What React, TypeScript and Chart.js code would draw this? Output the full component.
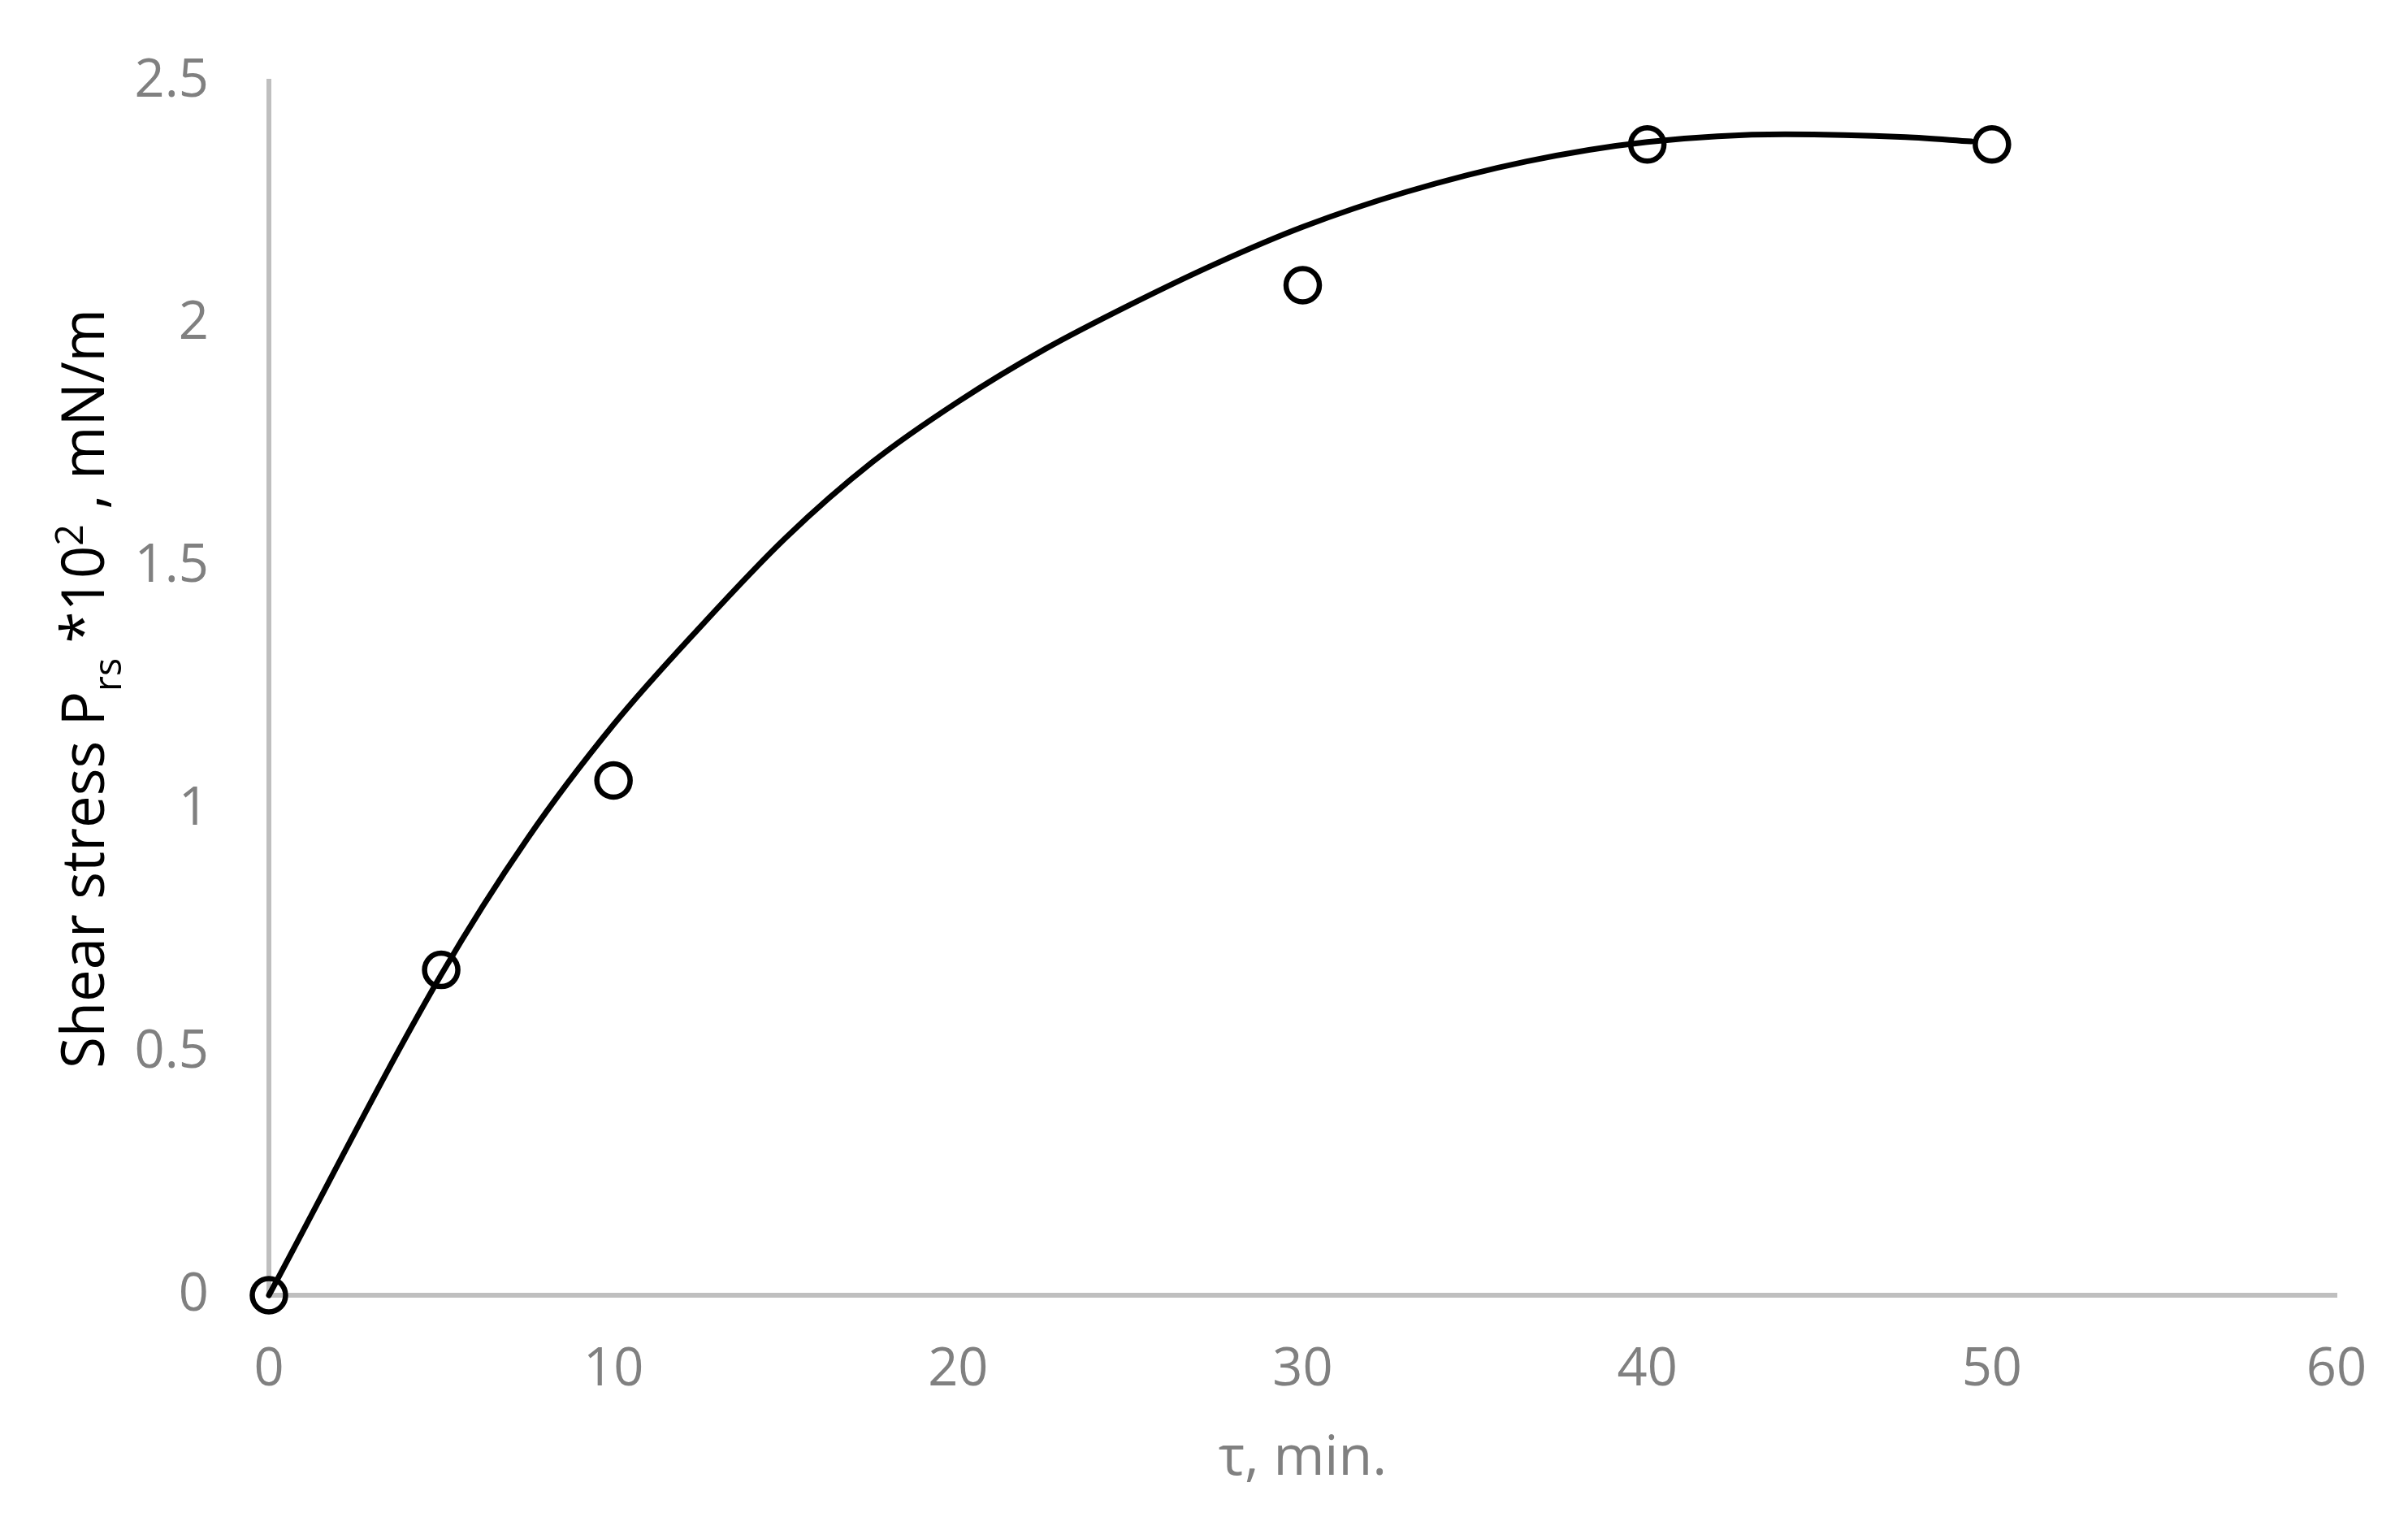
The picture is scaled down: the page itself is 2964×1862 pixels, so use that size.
import React, { useEffect, useRef } from "react";
import { Chart, registerables } from "chart.js";

Chart.register(...registerables);

// measured points
const tauMin = [0, 5, 10, 30, 40, 50];
const shearStress = [0, 0.67, 1.06, 2.08, 2.37, 2.37];

// smooth fitted curve
const curveTau = [0, 5, 7.5, 10, 12.5, 15, 17.5, 20, 22.5, 25, 27.5, 30, 33, 36.5, 40, 44, 47.5, 49.4];
const curveStress = [0, 0.66, 0.94, 1.175, 1.375, 1.56, 1.715, 1.84, 1.9475, 2.04, 2.125, 2.2, 2.272, 2.335, 2.375, 2.391, 2.385, 2.376];

// tick labels
const xTickValues = [0, 10, 20, 30, 40, 50, 60];
const yTickValues = [0, 0.5, 1, 1.5, 2, 2.5];

// axis titles
const xTitle = "τ, min.";
const yTitleParts = ["Shear stress P", "rs", " *10", "2", " , mN/m"];
const yTitleRoles = ["main", "sub", "main", "sup", "main"];

const FONT = "'Open Sans', 'Noto Sans', sans-serif";

const yTitlePlugin = {
  id: "yTitleRich",
  afterDraw(chart: any) {
    const ctx = chart.ctx as CanvasRenderingContext2D;
    const mainSize = 73;
    const smallSize = 48;
    const startY = 1315;
    const endY = 380;
    const baselineX = 128;
    ctx.save();
    const fontFor = (role: string) => `${role === "main" ? mainSize : smallSize}px ${FONT}`;
    const widths = yTitleParts.map((t, i) => {
      ctx.font = fontFor(yTitleRoles[i]);
      return ctx.measureText(t).width;
    });
    const total = widths.reduce((a, b) => a + b, 0);
    const f = (startY - endY) / total;
    ctx.translate(baselineX, startY);
    ctx.rotate(-Math.PI / 2);
    ctx.scale(f, 1);
    ctx.fillStyle = "#000000";
    ctx.textBaseline = "alphabetic";
    ctx.textAlign = "left";
    let x = 0;
    yTitleParts.forEach((t, i) => {
      const role = yTitleRoles[i];
      ctx.font = fontFor(role);
      const dy = role === "sub" ? 21 : role === "sup" ? -26 : 0;
      ctx.fillText(t, x, dy);
      x += widths[i];
    });
    ctx.restore();
  },
};

export default function App() {
  const canvasRef = useRef<HTMLCanvasElement | null>(null);

  useEffect(() => {
    const canvas = canvasRef.current;
    if (!canvas) return;
    const chart = new Chart(canvas, {
      type: "line",
      data: {
        datasets: [
          {
            label: "fit",
            data: curveTau.map((t, i) => ({ x: t, y: curveStress[i] })),
            borderColor: "#000000",
            borderWidth: 7,
            pointRadius: 0,
            cubicInterpolationMode: "monotone",
            borderCapStyle: "round",
            borderJoinStyle: "round",
            fill: false,
            clip: false,
          } as any,
          {
            label: "data",
            data: tauMin.map((t, i) => ({ x: t, y: shearStress[i] })),
            showLine: false,
            pointStyle: "circle",
            pointRadius: 20.5,
            pointBorderWidth: 6.5,
            pointBorderColor: "#000000",
            pointBackgroundColor: "rgba(0,0,0,0)",
            borderColor: "#000000",
            clip: false,
          } as any,
        ],
      },
      options: {
        animation: false,
        responsive: false,
        devicePixelRatio: 1,
        layout: { padding: { top: 100, right: 88, left: 0, bottom: 0 } },
        plugins: { legend: { display: false }, tooltip: { enabled: false }, title: { display: false } },
        scales: {
          x: {
            type: "linear",
            min: 0,
            max: 60,
            afterBuildTicks: (scale: any) => {
              scale.ticks = xTickValues.map((v) => ({ value: v }));
            },
            afterFit: (scale: any) => {
              scale.height = 268;
              scale.paddingLeft = 0;
              scale.paddingRight = 0;
            },
            grid: { display: false, drawTicks: false },
            border: { display: true, color: "#BFBFBF", width: 6 },
            ticks: {
              color: "#808080",
              font: { family: FONT, size: 65 },
              padding: 53,
              maxRotation: 0,
              autoSkip: false,
              callback: (v: any) => String(v),
            },
            title: {
              display: true,
              text: xTitle,
              color: "#808080",
              font: { family: FONT, size: 68 },
              padding: { top: 0, bottom: 26 },
            },
          },
          y: {
            type: "linear",
            min: 0,
            max: 2.5,
            afterBuildTicks: (scale: any) => {
              scale.ticks = yTickValues.map((v) => ({ value: v }));
            },
            afterFit: (scale: any) => {
              scale.width = 331;
              scale.paddingTop = 0;
              scale.paddingBottom = 0;
            },
            grid: { display: false, drawTicks: false },
            border: { display: true, color: "#BFBFBF", width: 6 },
            ticks: {
              color: "#808080",
              font: { family: FONT, size: 65 },
              padding: 74,
              autoSkip: false,
              callback: (v: any) => String(v),
            },
          },
        },
      } as any,
      plugins: [yTitlePlugin],
    });
    return () => chart.destroy();
  }, []);

  return (
    <div style={{ position: "absolute", left: 0, top: 0, width: 2964, height: 1862, background: "#ffffff" }}>
      <canvas ref={canvasRef} width={2964} height={1862} style={{ display: "block", width: 2964, height: 1862 }} />
    </div>
  );
}
